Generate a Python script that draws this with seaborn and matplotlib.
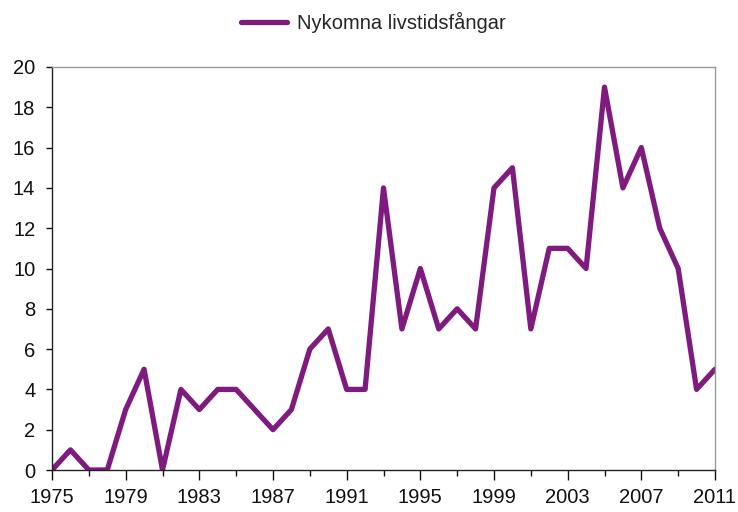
import numpy as np
import pandas as pd
import seaborn as sns
import matplotlib.pyplot as plt

sns.set_theme(style="white")
plt.rcParams['font.family'] = ['Liberation Sans', 'DejaVu Sans']

years = list(range(1975, 2012))
new_lifers = [0, 1, 0, 0, 3, 5, 0, 4, 3, 4, 4, 3, 2, 3, 6, 7, 4, 4, 14, 7,
              10, 7, 8, 7, 14, 15, 7, 11, 11, 10, 19, 14, 16, 12, 10, 4, 5]
series_name = 'Nykomna livstidsfångar'

df = pd.DataFrame({'År': years, series_name: new_lifers})

fig = plt.figure(figsize=(7.38, 5.12), dpi=100)
ax = fig.add_axes([52 / 738, 1 - 470 / 512, (715 - 52) / 738, (470 - 67) / 512])

sns.lineplot(data=df, x='År', y=series_name, ax=ax, color='#7f1b7e',
             linewidth=3.8, label=series_name)

ax.set_xlim(1975, 2011)
ax.set_ylim(0, 20)
ax.set_xticks(years[::4])
ax.set_xticks(years[::2], minor=True)
ax.set_yticks(range(0, 21, 2))
ax.set_xlabel('')
ax.set_ylabel('')

ax.tick_params(axis='x', which='major', direction='out', length=7, width=1,
               color='#222222', labelsize=14.5, pad=6, bottom=True)
ax.tick_params(axis='x', which='minor', direction='out', length=4.5, width=1,
               color='#222222', bottom=True)
ax.tick_params(axis='y', which='major', direction='out', length=4, width=1,
               color='#222222', labelsize=14.5, pad=8, left=True)
for side in ['left', 'bottom']:
    ax.spines[side].set_color('#222222')
    ax.spines[side].set_linewidth(1)
for side in ['top', 'right']:
    ax.spines[side].set_color('#999999')
    ax.spines[side].set_linewidth(1)
ax.tick_params(colors='#111111', which='both')

ax.legend(loc='lower center', bbox_to_anchor=(0.485, 1.04), frameon=False,
          fontsize=14.5, handlelength=2.3, handletextpad=0.5)

plt.savefig('out.png', dpi=100)
